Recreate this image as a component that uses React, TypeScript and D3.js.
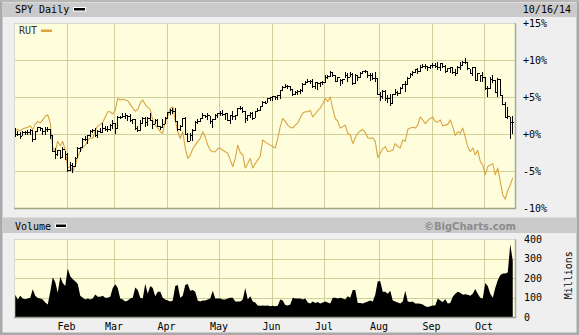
import React from 'react';
import * as d3 from 'd3';

// ---- DATA ----
const spyClose = [
  183.20, 183.14, 182.68, 183.79, 183.75, 183.81, 184.24, 181.92, 183.89, 184.84, 184.59, 183.87, 184.38, 184.49, 182.85, 179.03, 178.16, 179.25, 177.42, 179.42, 178.26,
  174.19, 175.52, 175.16, 177.34, 179.70, 179.98, 181.98, 181.93, 182.98, 183.86, 184.08, 182.88, 183.98, 183.63, 184.76, 184.51, 184.52, 185.43, 185.95,
  184.57, 187.39, 187.38, 187.70, 187.80, 187.72, 186.76, 186.82, 184.63, 184.11, 185.88, 187.23, 186.08, 187.20, 186.65, 185.74, 186.56, 185.26, 184.90, 185.76, 187.23,
  188.55, 189.09, 188.88, 186.51, 184.50, 185.20, 187.22, 183.31, 181.57, 183.06, 184.30, 186.23, 186.49, 187.19, 187.96, 187.54, 187.86, 186.34, 186.94, 187.83, 188.40,
  188.37, 188.11, 188.47, 186.77, 187.82, 187.56, 187.85, 189.67, 189.75, 188.85, 187.09, 187.79, 188.51, 187.28, 188.80, 189.25, 190.05, 191.19, 190.98, 192.00, 192.36,
  192.50, 192.42, 192.79, 194.05, 194.94, 195.13, 195.08, 194.39, 193.01, 193.62, 193.78, 194.20, 195.70, 195.95, 196.29, 196.26, 195.00, 195.95, 195.72, 196.10, 196.02,
  197.33, 197.46, 198.54, 197.77, 196.37, 197.28, 196.47, 196.76, 197.71, 197.33, 198.16, 195.81, 197.82, 197.36, 198.35, 198.70, 198.80, 197.83, 197.89, 197.00, 197.01, 193.07,
  192.52, 193.90, 192.02, 192.02, 190.96, 193.16, 193.69, 193.38, 194.67, 195.52, 195.51, 197.17, 198.16, 198.65, 199.24, 198.84, 199.79, 200.00, 200.01, 199.67, 200.34,
  200.23, 200.07, 199.77, 200.77, 200.15, 198.84, 199.57, 199.75, 198.55, 198.41, 199.90, 200.16, 201.14, 201.04, 199.43, 198.28, 199.83, 196.60, 198.29, 197.78, 197.23,
  194.62, 194.62, 196.79, 196.48, 193.51, 196.89, 192.82, 190.61, 187.47, 187.77, 186.25, 186.28,
];
const spyHigh = [
  184.6, 183.9, 183.7, 184.0, 184.0, 184.3, 184.4, 184.3, 183.9, 185.0, 184.9, 184.6, 184.9, 184.9, 184.4, 182.9, 179.7, 179.3, 179.3, 180.0, 179.0,
  178.5, 176.2, 176.0, 177.4, 179.9, 180.0, 182.3, 182.6, 183.0, 184.2, 184.4, 184.7, 184.1, 184.6, 185.8, 185.2, 185.2, 185.6, 186.7,
  185.9, 187.6, 187.6, 188.3, 188.4, 187.8, 188.2, 186.9, 187.0, 185.3, 186.6, 187.4, 187.4, 187.4, 188.4, 186.6, 186.8, 187.0, 185.3, 186.8, 187.3,
  188.6, 189.3, 189.7, 189.7, 186.5, 185.4, 187.2, 187.3, 183.5, 183.5, 184.4, 186.3, 186.9, 187.2, 188.4, 188.0, 188.5, 187.7, 187.0, 188.2, 188.4,
  189.0, 189.1, 188.5, 188.5, 188.0, 188.9, 187.9, 189.7, 190.2, 189.8, 188.9, 187.8, 188.7, 188.6, 189.0, 189.6, 190.1, 191.3, 191.4, 192.1, 192.4,
  192.6, 192.5, 192.9, 194.2, 195.0, 195.5, 195.3, 195.0, 194.4, 193.8, 194.1, 194.4, 195.8, 196.4, 196.8, 196.5, 196.9, 196.0, 196.0, 196.1, 196.4,
  197.9, 197.7, 198.8, 198.5, 197.7, 197.4, 196.8, 196.9, 198.5, 198.4, 198.6, 198.3, 198.0, 197.7, 198.6, 198.9, 199.1, 198.7, 198.2, 198.3, 198.5, 197.0,
  193.5, 194.1, 194.0, 192.8, 193.0, 193.2, 194.4, 193.9, 194.9, 195.6, 196.4, 197.4, 198.2, 198.7, 199.4, 199.5, 200.2, 200.5, 200.6, 200.0, 200.4,
  200.7, 200.9, 201.1, 200.8, 200.8, 200.2, 199.6, 199.8, 199.8, 199.2, 200.0, 201.0, 201.2, 201.9, 201.0, 199.4, 199.9, 199.8, 198.3, 197.8, 198.5,
  197.2, 195.2, 197.2, 197.7, 196.5, 197.0, 196.8, 192.9, 191.2, 189.9, 187.4, 187.6,
];
const spyLow = [
  182.8, 182.9, 182.2, 182.9, 183.2, 183.2, 183.3, 181.5, 182.0, 183.9, 184.3, 183.3, 183.3, 183.9, 182.3, 179.0, 177.2, 178.0, 177.3, 177.4, 177.0,
  174.0, 174.2, 173.8, 175.2, 177.4, 179.1, 180.0, 181.6, 180.9, 182.6, 183.6, 182.7, 182.4, 183.6, 183.6, 184.2, 184.0, 184.3, 184.8,
  183.4, 184.6, 187.1, 187.3, 187.2, 186.7, 186.5, 185.9, 184.5, 183.9, 184.1, 185.8, 185.1, 185.4, 186.6, 184.8, 185.8, 185.2, 184.5, 184.9, 185.8,
  187.2, 188.2, 188.3, 186.3, 184.3, 184.2, 185.1, 183.3, 181.4, 181.6, 181.6, 184.3, 185.9, 186.4, 187.2, 187.5, 186.8, 185.9, 185.0, 186.9, 187.3,
  188.0, 187.8, 186.8, 186.7, 186.0, 187.0, 186.8, 187.9, 189.4, 188.6, 186.2, 186.7, 187.5, 186.8, 187.3, 188.8, 189.2, 190.1, 190.8, 191.0, 191.5,
  191.6, 191.8, 191.8, 192.1, 194.2, 194.8, 194.5, 194.0, 192.9, 193.0, 193.0, 193.3, 193.9, 195.5, 196.0, 195.8, 194.9, 194.6, 194.4, 195.2, 195.5,
  196.0, 197.0, 197.5, 197.6, 196.2, 196.4, 195.3, 195.9, 197.2, 196.4, 197.6, 195.5, 195.8, 196.5, 197.4, 198.3, 198.5, 197.2, 196.6, 196.9, 196.2, 193.0,
  191.6, 192.2, 191.7, 191.1, 190.5, 190.9, 193.2, 192.9, 193.4, 194.6, 193.9, 195.6, 197.2, 197.9, 198.6, 198.4, 198.9, 199.8, 199.6, 199.1, 199.6,
  199.8, 199.9, 199.3, 199.0, 199.7, 198.6, 198.7, 198.5, 198.3, 197.8, 198.3, 199.3, 200.2, 200.8, 199.3, 198.2, 197.8, 196.5, 196.6, 196.4, 196.4,
  194.4, 192.6, 194.7, 196.1, 193.5, 192.5, 192.8, 190.6, 187.4, 187.2, 182.1, 183.5,
];
const spyFirstOpen = 184.6;

// RUT, percent change
const rutPct = [
  0.5, 0.6, 0.4, 0.7, 0.8, 0.9, 1.1, 0.6, 1.3, 1.7, 1.5, 1.9, 2.4, 2.6, 1.5, -1.9, -2.3, -1.0, -1.6, -1.0, -2.2,
  -4.6, -4.4, -5.1, -4.2, -3.1, -2.3, -1.8, -1.5, -0.9, -0.5, -0.6, 0.5, 1.1, 1.3, 1.6, 2.3, 3.0, 3.0, 2.7,
  3.2, 4.8, 4.6, 4.7, 4.6, 4.5, 4.0, 3.5, 3.1, 3.3, 4.2, 4.6, 4.0, 3.6, 3.3, 1.9, 1.2, 0.8, 0.3, 0.1, 1.8,
  2.4, 3.5, 3.7, 1.9, 0.3, -0.6, 0.3, -1.9, -3.3, -2.9, -2.0, -1.5, -1.0, -0.6, 0.3, -0.4, -1.5, -2.2, -2.4, -2.4, -2.0,
  -1.9, -2.2, -2.4, -2.6, -3.5, -4.4, -3.3, -1.5, -2.5, -2.8, -4.6, -4.0, -3.3, -4.6, -4.0, -3.5, -3.0, -0.8, -1.1, -1.3, -1.5,
  -1.7, -1.9, -0.6, 1.0, 2.1, 1.7, 1.2, 0.9, 0.8, 1.2, 1.5, 2.2, 2.8, 3.0, 3.0, 3.2, 2.3, 2.7, 3.2, 3.5, 4.1,
  4.8, 4.4, 5.0, 3.4, 2.1, 1.7, 0.8, 1.0, 1.2, 0.1, -0.1, -1.3, -0.5, 0.1, 0.4, 0.6, 0.2, -0.5, -0.6, -0.5, -1.0, -3.2,
  -2.6, -2.0, -1.7, -2.4, -2.3, -2.2, -1.3, -1.7, -1.9, -0.8, -1.0, 0.6, 0.8, 0.9, 0.8, 1.2, 2.3, 1.9, 1.4, 1.8, 2.1,
  2.3, 1.7, 1.6, 1.9, 1.1, 1.2, 1.3, 1.9, 1.0, -0.2, 0.3, 0.1, 0.8, -0.4, -1.7, -2.4, -1.9, -2.8, -2.2, -3.7, -4.2,
  -5.5, -4.4, -4.2, -4.0, -5.5, -4.6, -6.4, -8.2, -8.8, -7.6, -6.9, -5.9,
];

// SPY volume, millions
const volume = [
  115, 90, 110, 95, 92, 95, 100, 143, 110, 98, 95, 90, 75, 65, 130, 205, 180, 125, 208, 175, 160,
  250, 210, 195, 185, 170, 110, 100, 90, 95, 90, 95, 116, 105, 105, 110, 100, 100, 105, 150,
  169, 150, 95, 90, 80, 85, 95, 100, 152, 140, 100, 95, 172, 120, 160, 150, 107, 130, 130, 100, 90,
  85, 80, 85, 160, 165, 100, 110, 165, 170, 135, 140, 130, 85, 80, 85, 85, 90, 95, 135, 95, 95,
  95, 90, 90, 95, 100, 100, 80, 80, 80, 90, 150, 90, 107, 80, 75, 60, 58, 60, 58, 60, 55,
  58, 55, 58, 90, 85, 62, 60, 65, 100, 95, 95, 95, 90, 95, 75, 70, 80, 72, 78, 70, 75,
  80, 75, 70, 100, 100, 95, 100, 95, 90, 107, 100, 140, 140, 72, 72, 70, 75, 80, 85, 80, 115, 185,
  185, 130, 130, 120, 135, 85, 80, 75, 70, 80, 135, 80, 78, 80, 70, 70, 68, 65, 55, 52, 55,
  60, 60, 95, 85, 78, 92, 70, 72, 105, 120, 130, 125, 115, 118, 115, 110, 120, 145, 120, 100, 95,
  175, 160, 120, 100, 150, 190, 215, 225, 225, 230, 375, 290,
];

const monthLabels = ['Feb', 'Mar', 'Apr', 'May', 'Jun', 'Jul', 'Aug', 'Sep', 'Oct'];
const monthStartIdx = [21, 40, 61, 82, 103, 124, 146, 167, 188];
const priceTicks = [15, 10, 5, 0, -5, -10];
const volTicks = [400, 300, 200, 100, 0];

const W = 579;
const H = 335;
const MONO = '"DejaVu Sans Mono", monospace';
const YELLOW = '#fefedc';
const GRID = '#cfcf9c';
const RUT_COLOR = '#d9a442';

export default function App() {
  const n = spyClose.length;
  const left = 14, right = 515;
  const pTop = 23, pBot = 208;
  const vTop = 239.5, vBot = 317;

  const x = d3.scaleLinear().domain([0, n]).range([left, 514]);
  const y = d3.scaleLinear().domain([-10, 15]).range([pBot, pTop]);
  const yv = d3.scaleLinear().domain([0, 400]).range([vBot, vTop]);
  const base = spyClose[0];
  const pct = (v: number) => (v / base - 1) * 100;

  const rutPath = d3.line<number>()
    .x((_, i) => x(i + 0.5))
    .y((d) => y(d))(rutPct) || '';
  const volPath = d3.area<number>()
    .x((_, i) => x(i + 0.5))
    .y0(yv(0))
    .y1((d) => yv(d))(volume) || '';

  const bars = spyClose.map((c, i) => {
    const cx = Math.floor(x(i + 0.5));
    const hi = Math.round(y(pct(spyHigh[i])));
    const lo = Math.round(y(pct(spyLow[i])));
    const o = i === 0 ? spyFirstOpen : spyClose[i - 1];
    const oy = Math.round(y(pct(o)));
    const cy = Math.round(y(pct(c)));
    return (
      <g key={i}>
        <rect x={cx} y={hi} width={1} height={Math.max(1, lo - hi + 1)} fill="#000" />
        <rect x={cx - 1} y={oy} width={1} height={1} fill="#000" />
        <rect x={cx + 1} y={cy} width={1} height={1} fill="#000" />
      </g>
    );
  });

  return (
    <svg width={W} height={H} style={{ position: 'absolute', left: 0, top: 0 }}
      xmlns="http://www.w3.org/2000/svg">
      <rect x={0} y={0} width={W} height={H} fill="#efefef" />
      {/* outer frame */}
      <rect x={0} y={0} width={2.5} height={H} fill="#a9a9a9" />
      <rect x={W - 2.5} y={0} width={2.5} height={H} fill="#a9a9a9" />
      <rect x={0} y={H - 2.5} width={W} height={2.5} fill="#a9a9a9" />
      <rect x={0} y={0} width={W} height={2} fill="#b8b8b8" />
      {/* headers */}
      <rect x={2.5} y={2.5} width={W - 5} height={14.5} fill="#cacaca" />
      <rect x={2.5} y={217.5} width={W - 5} height={15.5} fill="#cacaca" />

      <text x={15} y={13} fontFamily={MONO} fontSize={10} fill="#000">SPY Daily</text>
      <rect x={73.5} y={7.5} width={12} height={3.5} fill="#000" stroke="#fff" strokeWidth={1} />
      <text x={571} y={13} fontFamily={MONO} fontSize={10} fill="#000" textAnchor="end">10/16/14</text>

      <text x={15} y={229.5} fontFamily={MONO} fontSize={10} fill="#000">Volume</text>
      <rect x={55.5} y={224} width={11} height={3.5} fill="#000" stroke="#fff" strokeWidth={1} />
      <text x={516} y={229.5} fontFamily='"DejaVu Sans", sans-serif' fontWeight="bold" fontSize={10}
        fill="#8c8c8c" textAnchor="end">©BigCharts.com</text>

      {/* price panel */}
      <rect x={left} y={pTop} width={right - left} height={pBot - pTop} fill={YELLOW} />
      <g shapeRendering="crispEdges">
        {priceTicks.slice(1, -1).map((t) => (
          <line key={t} x1={left} x2={right} y1={Math.round(y(t)) + 0.5} y2={Math.round(y(t)) + 0.5}
            stroke={GRID} strokeWidth={1} />
        ))}
        {monthStartIdx.map((m) => (
          <line key={m} x1={Math.round(x(m)) + 0.5} x2={Math.round(x(m)) + 0.5} y1={pTop} y2={pBot}
            stroke={GRID} strokeWidth={1} />
        ))}
      </g>
      <path d={rutPath} fill="none" stroke={RUT_COLOR} strokeWidth={1.1} strokeLinejoin="round" />
      <g shapeRendering="crispEdges">{bars}</g>
      <rect x={left} y={pTop} width={right - left} height={pBot - pTop} fill="none"
        stroke="#d8d8cc" strokeWidth={1} shapeRendering="crispEdges" />
      <line x1={left} x2={right + 1} y1={pBot + 0.5} y2={pBot + 0.5} stroke="#a3a37e" strokeWidth={1.5} />
      <line x1={right + 0.5} x2={right + 0.5} y1={pTop} y2={pBot + 1} stroke="#a8a8a0" strokeWidth={1.5} />
      <text x={19} y={34} fontFamily={MONO} fontSize={10} fill="#333">RUT</text>
      <rect x={41} y={29.5} width={11} height={2.5} fill={RUT_COLOR} />

      {priceTicks.map((t) => (
        <text key={t} x={523} y={y(t) + 3.5} fontFamily={MONO} fontSize={10} fill="#000">
          {(t >= 0 ? '+' : '') + t + '%'}
        </text>
      ))}

      {/* volume panel */}
      <rect x={left} y={vTop} width={right - left} height={vBot - vTop} fill={YELLOW} />
      <g shapeRendering="crispEdges">
        {volTicks.slice(1, -1).map((t) => (
          <line key={t} x1={left} x2={right} y1={Math.round(yv(t)) + 0.5} y2={Math.round(yv(t)) + 0.5}
            stroke={GRID} strokeWidth={1} />
        ))}
        {monthStartIdx.map((m) => (
          <line key={m} x1={Math.round(x(m)) + 0.5} x2={Math.round(x(m)) + 0.5} y1={vTop} y2={vBot}
            stroke={GRID} strokeWidth={1} />
        ))}
      </g>
      <path d={volPath} fill="#000" />
      <rect x={left} y={vTop} width={right - left} height={vBot - vTop} fill="none"
        stroke="#d8d8cc" strokeWidth={1} shapeRendering="crispEdges" />
      <line x1={left} x2={right + 1} y1={vBot + 0.5} y2={vBot + 0.5} stroke="#9a9a90" strokeWidth={1.5} />
      <line x1={right + 0.5} x2={right + 0.5} y1={vTop} y2={vBot + 1} stroke="#a8a8a0" strokeWidth={1.5} />

      {volTicks.map((t) => (
        <text key={t} x={524} y={yv(t) + 3.5} fontFamily={MONO} fontSize={10} fill="#000">{t}</text>
      ))}
      <text transform={`translate(571.5, ${(vTop + vBot) / 2 - 3}) rotate(-90)`} fontFamily={MONO}
        fontSize={10} fill="#000" textAnchor="middle">Millions</text>

      {monthLabels.map((m, k) => (
        <text key={m} x={x(monthStartIdx[k])} y={329.5} fontFamily={MONO} fontSize={10}
          fill="#000" textAnchor="middle">{m}</text>
      ))}
    </svg>
  );
}
